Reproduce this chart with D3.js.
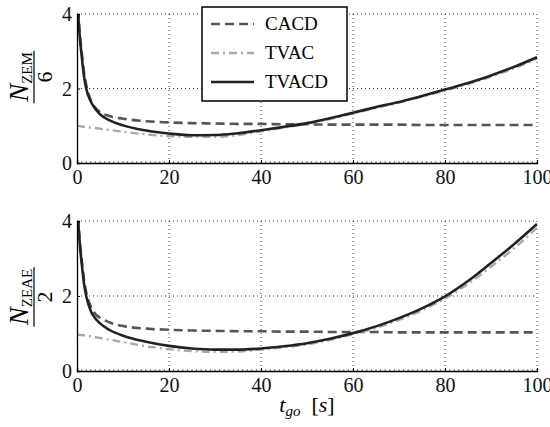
<!DOCTYPE html>
<html>
<head>
<meta charset="utf-8">
<script src="https://cdn.jsdelivr.net/npm/d3@7"></script>
<style>
  body { margin: 0; background: #fff; }
</style>
</head>
<body>
<div id="chart"></div>
<script>
// time-to-go samples [s]
const tgo = [0, 0.3, 0.6, 1, 1.5, 2, 3, 4, 5, 7, 10, 15, 20, 25, 30, 35, 40, 45, 50, 55, 60, 65, 70, 75, 80, 85, 90, 95, 100];

// top panel: N_ZEM / 6
const zemCACD  = [6, 4.1, 3.5, 3.0, 2.45, 2.1, 1.68, 1.48, 1.37, 1.26, 1.19, 1.12, 1.09, 1.07, 1.06, 1.05, 1.05, 1.04, 1.04, 1.03, 1.03, 1.03, 1.03, 1.02, 1.02, 1.02, 1.02, 1.02, 1.02];
const zemTVAC  = [1.0, 1.0, 0.99, 0.98, 0.97, 0.96, 0.95, 0.94, 0.92, 0.89, 0.84, 0.77, 0.72, 0.7, 0.7, 0.75, 0.85, 0.95, 1.05, 1.18, 1.33, 1.48, 1.62, 1.78, 1.94, 2.12, 2.32, 2.54, 2.8];
const zemTVACD = [6, 4.0, 3.4, 2.9, 2.35, 2.0, 1.65, 1.45, 1.31, 1.15, 1.01, 0.87, 0.79, 0.745, 0.75, 0.8, 0.88, 0.97, 1.07, 1.2, 1.35, 1.5, 1.64, 1.8, 1.97, 2.15, 2.35, 2.58, 2.84];

// bottom panel: N_ZEAE / 2
const zeaeCACD  = [6, 4.1, 3.5, 3.0, 2.45, 2.1, 1.72, 1.52, 1.42, 1.3, 1.2, 1.13, 1.1, 1.08, 1.07, 1.06, 1.06, 1.05, 1.05, 1.04, 1.04, 1.04, 1.03, 1.03, 1.03, 1.03, 1.03, 1.03, 1.03];
const zeaeTVAC  = [0.97, 0.97, 0.96, 0.96, 0.95, 0.94, 0.92, 0.9, 0.88, 0.84, 0.77, 0.66, 0.58, 0.53, 0.51, 0.52, 0.57, 0.63, 0.71, 0.83, 0.98, 1.15, 1.36, 1.62, 1.93, 2.32, 2.78, 3.27, 3.82];
const zeaeTVACD = [6, 4.0, 3.4, 2.9, 2.35, 2.0, 1.6, 1.4, 1.27, 1.1, 0.94, 0.78, 0.67, 0.6, 0.57, 0.57, 0.6, 0.66, 0.74, 0.86, 1.01, 1.19, 1.41, 1.67, 1.99, 2.4, 2.88, 3.38, 3.92];

const xTicks = [0, 20, 40, 60, 80, 100];
const yTicks = [0, 2, 4];
const seriesNames = ["CACD", "TVAC", "TVACD"];

const styles = {
    CACD:  { color: "#555", width: 2.6, dash: "9,5" },
    TVAC:  { color: "#a8a8a8", width: 2.3, dash: "8,4,2,4" },
    TVACD: { color: "#222", width: 2.6, dash: null }
};

const serif = "'Liberation Serif', Tinos, 'Noto Serif', 'Nimbus Roman', FreeSerif, 'DejaVu Serif', 'Times New Roman', Times, serif";

const svgWidth = 550, svgHeight = 427;
const svg = d3.select("#chart").append("svg")
    .attr("width", svgWidth)
    .attr("height", svgHeight)
    .attr("font-family", serif);

const left = 77, right = 537;
const x = d3.scaleLinear().domain([0, 100]).range([left, right]);

const panels = [
    { top: 14, bottom: 163, data: [zemCACD, zemTVAC, zemTVACD], sub: "ZEM", den: "6", labelY: 77 },
    { top: 221, bottom: 371, data: [zeaeCACD, zeaeTVAC, zeaeTVACD], sub: "ZEAE", den: "2", labelY: 297 }
];

panels.forEach((p, pi) => {
    const y = d3.scaleLinear().domain([0, 4]).range([p.bottom, p.top]);
    const g = svg.append("g");

    // dotted grid
    g.selectAll(".vgrid").data(xTicks.filter(d => d > 0)).join("line")
        .attr("x1", d => x(d)).attr("x2", d => x(d))
        .attr("y1", p.top).attr("y2", p.bottom)
        .attr("stroke", "#000").attr("stroke-width", 0.8)
        .attr("stroke-dasharray", "1,3");
    g.selectAll(".hgrid").data(yTicks.filter(d => d > 0)).join("line")
        .attr("x1", left).attr("x2", right)
        .attr("y1", d => y(d)).attr("y2", d => y(d))
        .attr("stroke", "#000").attr("stroke-width", 0.8)
        .attr("stroke-dasharray", "1,3");

    // curves
    const clipId = "clip" + pi;
    svg.append("defs").append("clipPath").attr("id", clipId)
        .append("rect").attr("x", left).attr("y", p.top)
        .attr("width", right - left).attr("height", p.bottom - p.top);

    const line = d3.line()
        .x((d, i) => x(tgo[i]))
        .y(d => y(d))
        .curve(d3.curveMonotoneX);

    const curves = g.append("g").attr("clip-path", `url(#${clipId})`);
    p.data.forEach((vals, si) => {
        const s = styles[seriesNames[si]];
        curves.append("path")
            .attr("d", line(vals))
            .attr("fill", "none")
            .attr("stroke", s.color)
            .attr("stroke-width", s.width)
            .attr("stroke-dasharray", s.dash);
    });

    // axes: left and bottom solid, ticks pointing inward
    const xAxis = d3.axisBottom(x).tickValues(xTicks).tickSize(-3).tickPadding(7).tickFormat(d3.format("d"));
    const xa = g.append("g").attr("transform", `translate(0,${p.bottom})`).call(xAxis);
    const yAxis = d3.axisLeft(y).tickValues(yTicks).tickSize(-3).tickPadding(5).tickFormat(d3.format("d"));
    const ya = g.append("g").attr("transform", `translate(${left},0)`).call(yAxis);
    [xa, ya].forEach(a => {
        a.attr("font-family", serif).attr("font-size", 20);
        a.select(".domain").attr("stroke", "#000").attr("stroke-width", 1.3);
        a.selectAll("text").attr("fill", "#111");
    });
    xa.selectAll("text").attr("dy", "0.72em");
    ya.selectAll("text").attr("dy", "0.34em");

    // minor ticks on x axis
    const minor = d3.range(1, 100).filter(d => d % 20 !== 0);
    g.selectAll(".minor").data(minor).join("line")
        .attr("x1", d => x(d)).attr("x2", d => x(d))
        .attr("y1", p.bottom).attr("y2", p.bottom - 1.8)
        .attr("stroke", "#000").attr("stroke-width", 0.6);

    // y label: fraction N_sub / den
    const lab = svg.append("g")
        .attr("transform", `translate(34,${p.labelY}) rotate(-90)`);
    const num = lab.append("text")
        .attr("text-anchor", "middle")
        .attr("y", -6);
    num.append("tspan").attr("font-style", "italic").attr("font-size", 27).text("N");
    num.append("tspan").attr("dy", 4).attr("font-size", 15).text(p.sub);
    const w = num.node().getBBox().width;
    lab.append("line")
        .attr("x1", -w / 2 - 1).attr("x2", w / 2 + 1)
        .attr("stroke", "#000").attr("stroke-width", 1.2);
    lab.append("text")
        .attr("text-anchor", "middle")
        .attr("y", 18)
        .attr("font-size", 22)
        .text(p.den);
});

// x label
const xl = svg.append("text")
    .attr("x", (left + right) / 2)
    .attr("y", 412)
    .attr("text-anchor", "middle")
    .attr("font-size", 22);
xl.append("tspan").attr("font-style", "italic").text("t");
xl.append("tspan").attr("font-style", "italic").attr("dy", 4).attr("font-size", 15).text("go");
xl.append("tspan").attr("dy", -4).text("\u2002[");
xl.append("tspan").attr("font-style", "italic").text("s");
xl.append("tspan").text("]");

// legend
const legend = svg.append("g");
legend.append("rect")
    .attr("x", 202).attr("y", 7).attr("width", 145).attr("height", 94)
    .attr("fill", "#fff").attr("stroke", "#000").attr("stroke-width", 1.5);
seriesNames.forEach((name, i) => {
    const s = styles[name];
    const cy = 24 + i * 29;
    legend.append("line")
        .attr("x1", 211).attr("x2", 254).attr("y1", cy).attr("y2", cy)
        .attr("stroke", s.color).attr("stroke-width", s.width)
        .attr("stroke-dasharray", s.dash);
    legend.append("text")
        .attr("x", 265).attr("y", cy + 6)
        .attr("font-size", 19)
        .text(name);
});
</script>
</body>
</html>
